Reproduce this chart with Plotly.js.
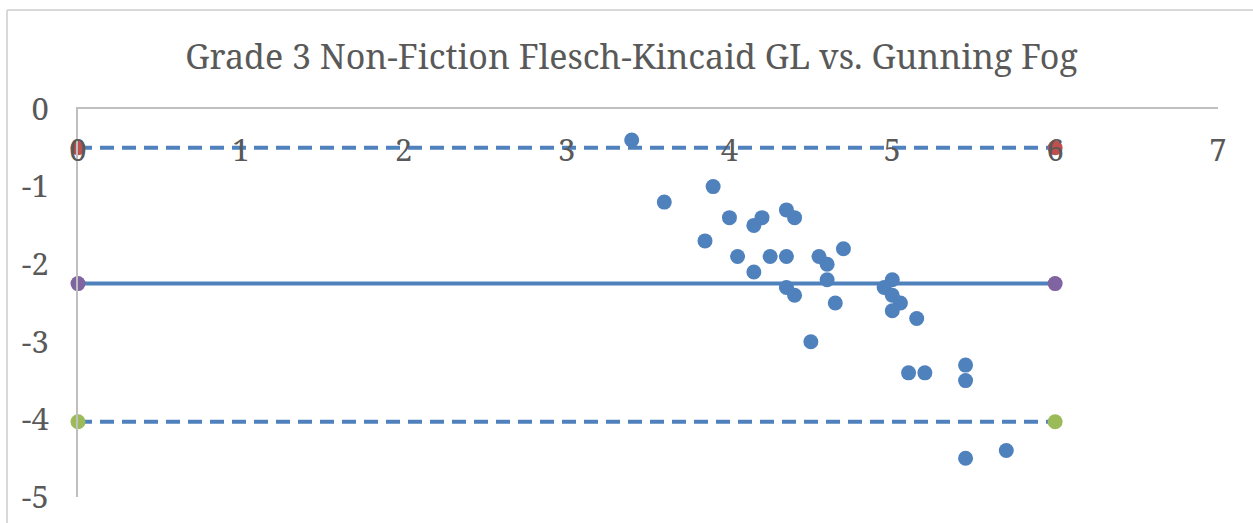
<!DOCTYPE html>
<html>
<head>
<meta charset="utf-8">
<script src="https://cdn.plot.ly/plotly-3.0.1.min.js"></script>
<style>html,body{margin:0;padding:0;background:#fff;}#chart{width:1253px;height:523px;}</style>
</head>
<body>
<div id="chart"></div>
<script>
// Scatter data (mean grade level vs difference)
const xVals = [3.40, 3.60, 3.90, 3.85, 4.00, 4.05, 4.15, 4.20, 4.15, 4.25,
               4.35, 4.40, 4.35, 4.35, 4.40, 4.50, 4.55, 4.60, 4.70, 4.60,
               4.65, 5.00, 4.95, 5.00, 5.05, 5.00, 5.15, 5.10, 5.20, 5.45,
               5.45, 5.45, 5.70];
const yVals = [-0.4, -1.2, -1.0, -1.7, -1.4, -1.9, -1.5, -1.4, -2.1, -1.9,
               -1.3, -1.4, -1.9, -2.3, -2.4, -3.0, -1.9, -2.0, -1.8, -2.2,
               -2.5, -2.2, -2.3, -2.4, -2.5, -2.6, -2.7, -3.4, -3.4, -3.3,
               -3.5, -4.5, -4.4];
// Reference lines (upper limit, mean, lower limit)
const lineX = [0, 6];
const upperLimit = -0.5;
const meanDiff = -2.25;
const lowerLimit = -4.03;
// Tick labels
const xTickVals = [0, 1, 2, 3, 4, 5, 6, 7];
const xTickText = ['0', '1', '2', '3', '4', '5', '6', '7'];
const yTickVals = [0, -1, -2, -3, -4, -5];
const yTickText = ['0', '-1', '-2', '-3', '-4', '-5'];
const chartTitle = 'Grade 3 Non-Fiction Flesch-Kincaid GL vs. Gunning Fog';

const blue = '#4F81BD';
const serif = "'Noto Serif', 'DejaVu Serif', serif";
const traces = [
  {x: lineX, y: [upperLimit, upperLimit], mode: 'lines+markers', type: 'scatter',
   line: {color: blue, width: 4, dash: '14px,8px'}, marker: {color: '#C0504D', size: 15}, cliponaxis: false, hoverinfo: 'none'},
  {x: lineX, y: [meanDiff, meanDiff], mode: 'lines+markers', type: 'scatter',
   line: {color: blue, width: 4}, marker: {color: '#8064A2', size: 15}, cliponaxis: false, hoverinfo: 'none'},
  {x: lineX, y: [lowerLimit, lowerLimit], mode: 'lines+markers', type: 'scatter',
   line: {color: blue, width: 4, dash: '14px,8px'}, marker: {color: '#9BBB59', size: 15}, cliponaxis: false, hoverinfo: 'none'},
  {x: xVals, y: yVals, xaxis: 'x2', mode: 'markers', type: 'scatter',
   marker: {color: blue, size: 15}, cliponaxis: false}
];

const layout = {
  width: 1253, height: 523,
  margin: {l: 78, r: 35, t: 109, b: 26},
  paper_bgcolor: '#fff', plot_bgcolor: '#fff',
  showlegend: false,
  font: {family: serif, color: '#595959'},
  title: {text: chartTitle, font: {size: 34, color: '#595959', family: serif},
          x: 0.504, xref: 'container', xanchor: 'center', y: 0.891, yref: 'container', yanchor: 'middle'},
  xaxis: {range: [0, 7], side: 'top', showticklabels: false, ticks: '',
          showgrid: false, zeroline: false, showline: true, linecolor: '#BFBFBF', linewidth: 2,
          fixedrange: true},
  xaxis2: {range: [0, 7], overlaying: 'x', anchor: 'free', position: 0.948, side: 'bottom',
           tickvals: xTickVals, ticktext: xTickText, ticks: '', ticklabelstandoff: 0,
           showgrid: false, zeroline: false, showline: false,
           tickfont: {size: 31, color: '#595959', family: serif}, fixedrange: true},
  yaxis: {range: [-5, 0], tickvals: yTickVals, ticktext: yTickText, ticks: '',
          ticklabelstandoff: 21,
          showgrid: false, zeroline: false, showline: true, linecolor: '#BFBFBF', linewidth: 2,
          tickfont: {size: 31, color: '#595959', family: serif}, fixedrange: true},
  shapes: [
    {type: 'line', xref: 'paper', yref: 'paper', x0: -0.0623, x1: 1.1, y0: 1.2552, y1: 1.2552, line: {color: '#D9D9D9', width: 2}},
    {type: 'line', xref: 'paper', yref: 'paper', x0: -0.0623, x1: -0.0623, y0: -0.2, y1: 1.2552, line: {color: '#D9D9D9', width: 2}}
  ]
};

Plotly.newPlot('chart', traces, layout, {displayModeBar: false, staticPlot: true});
</script>
</body>
</html>
